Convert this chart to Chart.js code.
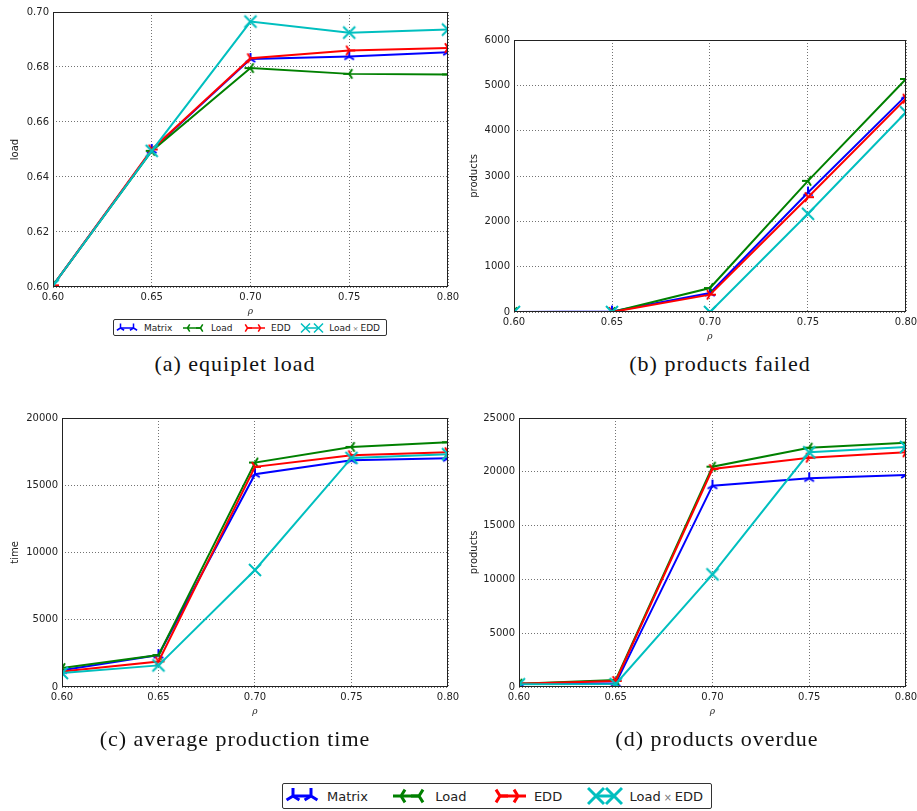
<!DOCTYPE html>
<html>
<head>
<meta charset="utf-8">
<script src="https://cdn.jsdelivr.net/npm/chart.js@4.4.1/dist/chart.umd.min.js"></script>
<style>
  body { margin: 0; background: #fff; width: 917px; height: 811px; position: relative; overflow: hidden; font-family: "DejaVu Sans", sans-serif; color: #222; }
  canvas.panel { position: absolute; }
  .caption { position: absolute; width: 460px; text-align: center; font-family: "Liberation Serif", serif; font-size: 22px; line-height: 24px; letter-spacing: 1px; color: #111; }
  .legend { position: absolute; display: flex; align-items: center; justify-content: space-between; box-sizing: border-box; border: 1px solid #333; border-radius: 2px; background: #fff; }
  .legend .item { display: flex; align-items: center; }
  .legend .times { color: #777; font-size: 0.75em; margin: 0 0.3em; }
</style>
</head>
<body>
<canvas class="panel" id="chartA"></canvas>
<canvas class="panel" id="chartB"></canvas>
<canvas class="panel" id="chartC"></canvas>
<canvas class="panel" id="chartD"></canvas>

<div class="caption" style="left:5px; top:352px;">(a) equiplet load</div>
<div class="caption" style="left:490px; top:352px;">(b) products failed</div>
<div class="caption" style="left:5px; top:727px;">(c) average production time</div>
<div class="caption" style="left:487px; top:727px;">(d) products overdue</div>

<div class="legend" id="legendSmall" style="left:113px; top:319px; width:274px; height:17px; font-size:9px; padding:0 6px 0 1px;"></div>
<div class="legend" id="legendBig" style="left:282px; top:783px; width:430px; height:26px; font-size:13px; padding:0 8px 0 1px;"></div>

<script>
// --- DATA ---
const rho = [0.60, 0.65, 0.70, 0.75, 0.80];
const rhoTicks = [0.60, 0.65, 0.70, 0.75, 0.80];
const seriesNames = ['Matrix', 'Load', 'EDD', 'Load × EDD'];
const seriesColors = ['#0000ff', '#008000', '#ff0000', '#00bfbf'];
const seriesMarkers = ['triUp', 'triLeft', 'triRight', 'cross'];

// (a) equiplet load
const loadTicks = [0.60, 0.62, 0.64, 0.66, 0.68, 0.70];
const loadMatrix = [0.6006, 0.6498, 0.6829, 0.6838, 0.6854];
const loadLoad = [0.6006, 0.6495, 0.6796, 0.6775, 0.6773];
const loadEdd = [0.6006, 0.6500, 0.6832, 0.6860, 0.6869];
const loadLoadEdd = [0.6006, 0.6495, 0.6965, 0.6925, 0.6936];

// (b) products failed
const failedTicks = [0, 1000, 2000, 3000, 4000, 5000, 6000];
const failedMatrix = [0, 10, 418, 2636, 4772];
const failedLoad = [0, 0, 529, 2893, 5140];
const failedEdd = [0, 0, 382, 2533, 4706];
const failedLoadEdd = [0, 0, 0, 2166, 4405];

// (c) average production time
const timeTicks = [0, 5000, 10000, 15000, 20000];
const timeMatrix = [1240, 2373, 15822, 16860, 17008];
const timeLoad = [1410, 2373, 16687, 17849, 18195];
const timeEdd = [1160, 1900, 16366, 17231, 17453];
const timeLoadEdd = [1040, 1607, 8702, 17033, 17305];

// (d) products overdue
const overdueTicks = [0, 5000, 10000, 15000, 20000, 25000];
const overdueMatrix = [310, 340, 18711, 19393, 19703];
const overdueLoad = [310, 650, 20477, 22243, 22707];
const overdueEdd = [310, 560, 20260, 21314, 21809];
const overdueLoadEdd = [250, 280, 10471, 21809, 22305];

// --- MARKERS (matplotlib style tri / x markers) ---
const markerArms = {
  triUp: [[0, -1], [0.8, 0.5], [-0.8, 0.5]],
  triLeft: [[-1, 0], [0.5, -0.8], [0.5, 0.8]],
  triRight: [[1, 0], [-0.5, -0.8], [-0.5, 0.8]],
  cross: [[-1, -1], [1, 1], [-1, 1], [1, -1]]
};

function drawMarker(ctx, kind, x, y, r) {
  ctx.beginPath();
  markerArms[kind].forEach(([dx, dy]) => {
    ctx.moveTo(x, y);
    ctx.lineTo(x + dx * r, y + dy * r);
  });
  ctx.stroke();
}

function markerImage(kind, color, r, lw) {
  const c = document.createElement('canvas');
  const s = Math.ceil(2 * r + lw + 2);
  c.width = s;
  c.height = s;
  const ctx = c.getContext('2d');
  ctx.strokeStyle = color;
  ctx.lineWidth = lw;
  drawMarker(ctx, kind, s / 2, s / 2, r);
  return c;
}

// frame around the plot area, like matplotlib's spines
const framePlugin = {
  id: 'frame',
  afterDatasetsDraw(chart) {
    const { ctx, chartArea: a } = chart;
    ctx.save();
    ctx.strokeStyle = '#222';
    ctx.lineWidth = 1;
    ctx.strokeRect(Math.round(a.left) + 0.5, Math.round(a.top) + 0.5,
      Math.round(a.right - a.left) - 1, Math.round(a.bottom - a.top) - 1);
    ctx.restore();
  }
};

const tickFont = { family: 'DejaVu Sans', size: 10 };
const gridStyle = { color: 'rgba(0,0,0,0.55)', lineWidth: 1, drawTicks: false };

function makePanel(p) {
  const canvas = document.getElementById(p.id);
  canvas.width = p.box.width;
  canvas.height = p.box.height;
  canvas.style.left = p.box.left + 'px';
  canvas.style.top = p.box.top + 'px';
  const boxBottom = p.box.top + p.box.height;

  const datasets = p.series.map((values, i) => ({
    label: seriesNames[i],
    data: values.map((v, j) => ({ x: rho[j], y: v })),
    borderColor: seriesColors[i],
    borderWidth: 2,
    pointStyle: markerImage(seriesMarkers[i], seriesColors[i], 6, 2),
    pointRadius: 6,
    order: seriesNames.length - i,
    tension: 0
  }));

  return new Chart(canvas, {
    type: 'line',
    data: { datasets },
    plugins: [framePlugin],
    options: {
      responsive: false,
      animation: false,
      devicePixelRatio: 1,
      layout: { padding: { top: p.plot.y0 - p.box.top, right: p.box.left + p.box.width - p.plot.x1, left: 0, bottom: 0 } },
      plugins: { legend: { display: false }, tooltip: { enabled: false } },
      scales: {
        x: {
          type: 'linear',
          min: rhoTicks[0],
          max: rhoTicks[rhoTicks.length - 1],
          afterBuildTicks: s => { s.ticks = rhoTicks.map(v => ({ value: v })); },
          afterFit: s => { s.height = boxBottom - p.plot.y1; s.paddingLeft = 0; s.paddingRight = 0; },
          ticks: { font: tickFont, color: '#222', padding: 4, maxRotation: 0, callback: v => v.toFixed(2) },
          grid: gridStyle,
          border: { display: false, dash: [1, 2] },
          title: { display: true, text: 'ρ', color: '#222', font: { family: 'DejaVu Serif', size: 9, style: 'italic' },
                   padding: { top: 0, bottom: boxBottom - p.xTitleY - 5.4 } }
        },
        y: {
          type: 'linear',
          min: p.yTicks[0],
          max: p.yTicks[p.yTicks.length - 1],
          afterBuildTicks: s => { s.ticks = p.yTicks.map(v => ({ value: v })); },
          afterFit: s => { s.width = p.plot.x0 - p.box.left; s.paddingTop = 0; s.paddingBottom = 0; },
          ticks: { font: tickFont, color: '#222', padding: 4, callback: v => v.toFixed(p.digits) },
          grid: gridStyle,
          border: { display: false, dash: [1, 2] },
          title: { display: true, text: p.yTitle, color: '#222', font: { family: 'DejaVu Sans', size: 10 },
                   padding: { top: p.yTitleX - p.box.left - 6, bottom: 0 } }
        }
      }
    }
  });
}

function buildLegend(id, r, lw, sampleWidth, sampleHeight) {
  const el = document.getElementById(id);
  seriesNames.forEach((name, i) => {
    const item = document.createElement('div');
    item.className = 'item';
    const c = document.createElement('canvas');
    c.width = sampleWidth;
    c.height = sampleHeight;
    const ctx = c.getContext('2d');
    ctx.strokeStyle = seriesColors[i];
    ctx.lineWidth = lw;
    const pad = r + 1;
    const cy = sampleHeight / 2;
    ctx.beginPath();
    ctx.moveTo(pad, cy);
    ctx.lineTo(sampleWidth - pad, cy);
    ctx.stroke();
    drawMarker(ctx, seriesMarkers[i], pad, cy, r);
    drawMarker(ctx, seriesMarkers[i], sampleWidth - pad, cy, r);
    item.appendChild(c);
    const label = document.createElement('span');
    label.style.marginLeft = Math.round(sampleWidth / 5) + 'px';
    const parts = name.split('×');
    label.appendChild(document.createTextNode(parts[0].trim()));
    if (parts.length > 1) {
      const t = document.createElement('span');
      t.className = 'times';
      t.textContent = '×';
      label.appendChild(t);
      label.appendChild(document.createTextNode(parts[1].trim()));
    }
    item.appendChild(label);
    el.appendChild(item);
  });
}

const panels = [
  { id: 'chartA', box: { left: 0, top: 0, width: 460, height: 340 }, plot: { x0: 53, y0: 12, x1: 448, y1: 287 },
    yTitle: 'load', yTitleX: 15, xTitleY: 312, yTicks: loadTicks, digits: 2,
    series: [loadMatrix, loadLoad, loadEdd, loadLoadEdd] },
  { id: 'chartB', box: { left: 460, top: 0, width: 457, height: 350 }, plot: { x0: 514, y0: 40, x1: 906, y1: 312 },
    yTitle: 'products', yTitleX: 474, xTitleY: 337, yTicks: failedTicks, digits: 0,
    series: [failedMatrix, failedLoad, failedEdd, failedLoadEdd] },
  { id: 'chartC', box: { left: 0, top: 400, width: 460, height: 330 }, plot: { x0: 62, y0: 418, x1: 448, y1: 687 },
    yTitle: 'time', yTitleX: 15, xTitleY: 712, yTicks: timeTicks, digits: 0,
    series: [timeMatrix, timeLoad, timeEdd, timeLoadEdd] },
  { id: 'chartD', box: { left: 460, top: 400, width: 457, height: 330 }, plot: { x0: 519, y0: 418, x1: 906, y1: 687 },
    yTitle: 'products', yTitleX: 474, xTitleY: 712, yTicks: overdueTicks, digits: 0,
    series: [overdueMatrix, overdueLoad, overdueEdd, overdueLoadEdd] }
];

panels.forEach(makePanel);
buildLegend('legendSmall', 4.5, 1.5, 24, 14);
buildLegend('legendBig', 8, 3, 36, 22);
</script>
</body>
</html>
